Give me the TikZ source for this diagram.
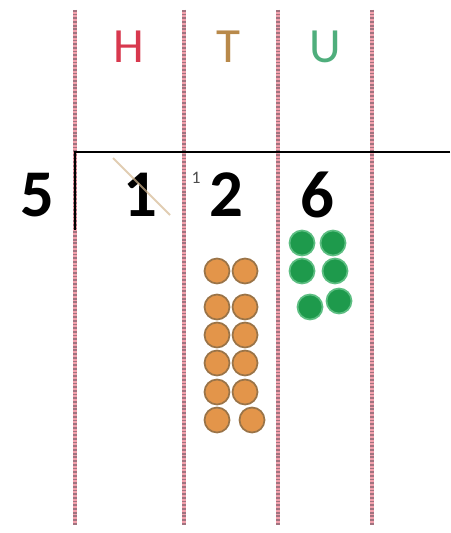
\documentclass[tikz,border=0pt]{standalone}
\usepackage{fontspec}
\setmainfont{Carlito}
\definecolor{hcol}{HTML}{D8384E}
\definecolor{tcol}{HTML}{B8894A}
\definecolor{ucol}{HTML}{4FAE7C}
\definecolor{tenfill}{HTML}{E3954A}
\definecolor{tenedge}{HTML}{9A7448}
\definecolor{onefill}{HTML}{1E9A4C}
\definecolor{oneedge}{HTML}{5DBE82}
\definecolor{guide}{HTML}{F3A0AC}
\definecolor{guidedot}{HTML}{A07480}
\begin{document}
\begin{tikzpicture}[
		x=0.02cm,y=-0.02cm,
		every node/.style={inner sep=0pt},
		declare function={
			r=12.5;
			ytop=10;
			ybot=525;
		}
		]
		\useasboundingbox (0,0) rectangle (450,533);
		% place value guides
		\foreach \xg in {75,184,278,372}{
			\draw[guide,line width=2.2pt] (\xg,ytop) -- (\xg,ybot);
			\draw[guidedot,line width=1.8pt,dash pattern=on 1pt off 1.1pt] (\xg,ytop) -- (\xg,ybot);
		}
		% column headings
		\node[text=hcol,font=\fontsize{28}{30}\selectfont] (hund) at (129,47) {H};
		\node[text=tcol,font=\fontsize{28}{30}\selectfont] (tens) at (228,47) {T};
		\node[text=ucol,font=\fontsize{28}{30}\selectfont] (unit) at (325,47) {U};
		% bus stop
		\draw[line width=1.6pt] (450,152) -- (75,152) -- (75,230);
		\node[font=\bfseries\fontsize{38}{40}\selectfont] (divisor) at (37,195) {5};
		\node[font=\bfseries\fontsize{38}{40}\selectfont] (dig1) at (140,195) {1};
		\node[font=\bfseries\fontsize{38}{40}\selectfont] (dig2) at (226,195) {2};
		\node[font=\bfseries\fontsize{38}{40}\selectfont] (dig3) at (317,195) {6};
		\node[text=black!70,font=\fontsize{10}{11}\selectfont] (carry) at (196,178) {1};
		\draw[tcol!60,line width=1.2pt,opacity=0.7] (113,158) -- (170,215);
		% counters
		\def\counter#1#2#3#4{
			\draw[fill=#3,draw=#4,line width=1pt] (#1,#2) circle ({r});
		}
		\foreach \yc in {271,307,335,363,392}{
			\counter{217}{\yc}{tenfill}{tenedge}
			\counter{245}{\yc}{tenfill}{tenedge}
		}
		\counter{217}{420}{tenfill}{tenedge}
		\counter{252}{420}{tenfill}{tenedge}
		\counter{302}{243}{onefill}{oneedge}
		\counter{333}{243}{onefill}{oneedge}
		\counter{302}{271}{onefill}{oneedge}
		\counter{335}{271}{onefill}{oneedge}
		\counter{310}{307}{onefill}{oneedge}
		\counter{339}{301}{onefill}{oneedge}
	\end{tikzpicture}
\end{document}
